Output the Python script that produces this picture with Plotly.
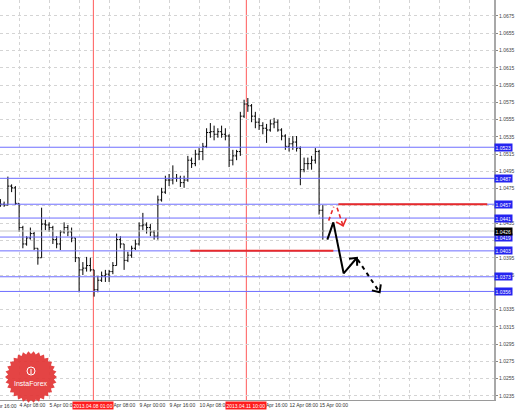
import math
import plotly.graph_objects as go

# ---------------- data (EURUSD-like H2 bars, x = hours since 2013-04-03 22:00, weekend skipped)
START_OPEN = 1.0460
highs = [1.0463, 1.0460, 1.0489, 1.0480, 1.0478, 1.0458, 1.0432, 1.0420, 1.0430, 1.0425,
         1.0406, 1.0453, 1.0439, 1.0436, 1.0432, 1.0420, 1.0427, 1.0436, 1.0433, 1.0430,
         1.0418, 1.0395, 1.0390, 1.0396, 1.0395, 1.0381, 1.0374, 1.0379, 1.0381, 1.0381,
         1.0390, 1.0423, 1.0420, 1.0411, 1.0402, 1.0409, 1.0416, 1.0436, 1.0447, 1.0436,
         1.0434, 1.0427, 1.0467, 1.0476, 1.0490, 1.0492, 1.0502, 1.0492, 1.0490, 1.0490,
         1.0513, 1.0511, 1.0520, 1.0522, 1.0528, 1.0545, 1.0551, 1.0548, 1.0545, 1.0548,
         1.0545, 1.0538, 1.0520, 1.0520, 1.0564, 1.0578, 1.0580, 1.0573, 1.0564, 1.0557,
         1.0552, 1.0550, 1.0555, 1.0557, 1.0555, 1.0545, 1.0538, 1.0534, 1.0536, 1.0536,
         1.0524, 1.0511, 1.0511, 1.0513, 1.0522, 1.0520, 1.0456]
lows = [1.0454, 1.0454, 1.0456, 1.0471, 1.0456, 1.0425, 1.0406, 1.0409, 1.0416, 1.0404,
        1.0387, 1.0395, 1.0427, 1.0425, 1.0411, 1.0406, 1.0404, 1.0423, 1.0420, 1.0413,
        1.0390, 1.0355, 1.0375, 1.0379, 1.0379, 1.0350, 1.0355, 1.0367, 1.0367, 1.0367,
        1.0376, 1.0386, 1.0406, 1.0381, 1.0390, 1.0395, 1.0404, 1.0409, 1.0427, 1.0423,
        1.0420, 1.0416, 1.0416, 1.0460, 1.0469, 1.0478, 1.0480, 1.0483, 1.0477, 1.0476,
        1.0483, 1.0499, 1.0501, 1.0508, 1.0508, 1.0522, 1.0534, 1.0531, 1.0534, 1.0534,
        1.0531, 1.0500, 1.0502, 1.0508, 1.0513, 1.0557, 1.0564, 1.0552, 1.0545, 1.0543,
        1.0538, 1.0528, 1.0541, 1.0545, 1.0541, 1.0531, 1.0520, 1.0518, 1.0520, 1.0518,
        1.0479, 1.0494, 1.0497, 1.0497, 1.0504, 1.0445, 1.0416]
closes = [1.0457, 1.0456, 1.0478, 1.0476, 1.0458, 1.0430, 1.0411, 1.0418, 1.0423, 1.0406,
          1.0395, 1.0434, 1.0433, 1.0430, 1.0416, 1.0411, 1.0425, 1.0430, 1.0425, 1.0418,
          1.0395, 1.0381, 1.0383, 1.0386, 1.0381, 1.0358, 1.0369, 1.0374, 1.0376, 1.0379,
          1.0386, 1.0416, 1.0411, 1.0392, 1.0398, 1.0406, 1.0411, 1.0432, 1.0433, 1.0430,
          1.0425, 1.0420, 1.0462, 1.0471, 1.0485, 1.0485, 1.0487, 1.0487, 1.0482, 1.0485,
          1.0508, 1.0504, 1.0515, 1.0518, 1.0524, 1.0540, 1.0541, 1.0538, 1.0541, 1.0538,
          1.0536, 1.0508, 1.0513, 1.0518, 1.0559, 1.0573, 1.0571, 1.0559, 1.0552, 1.0548,
          1.0545, 1.0543, 1.0550, 1.0552, 1.0543, 1.0536, 1.0524, 1.0527, 1.0529, 1.0522,
          1.0497, 1.0504, 1.0504, 1.0508, 1.0518, 1.0450, 1.0426]
bar_hours = list(range(0, 2 * len(closes), 2))
opens = [START_OPEN] + closes[:-1]

y_tick_vals = [1.0235, 1.0255, 1.0275, 1.0295, 1.0315, 1.0335, 1.0375, 1.0395,
               1.0415, 1.0435, 1.0455, 1.0475, 1.0495, 1.0515, 1.0535, 1.0555, 1.0575,
               1.0595, 1.0615, 1.0635, 1.0655, 1.0675]
y_tick_text = ["1.0235", "1.0255", "1.0275", "1.0295", "1.0315", "1.0335", "1.0375", "1.0395",
               "", "1.0435", "", "1.0475", "1.0495", "1.0515", "1.0535", "1.0555", "1.0575",
               "1.0595", "1.0615", "1.0635", "1.0655", "1.0675"]
x_tick_hours = [10, 26, 42, 58, 74, 90, 106, 122, 138, 154, 170, 186, 202, 218, 234, 250]
x_tick_text = ["4 Apr 08:00", "5 Apr 00:00", "", "8 Apr 08:00",
               "9 Apr 00:00", "9 Apr 16:00", "10 Apr 08:00", "", "11 Apr 16:00",
               "12 Apr 08:00", "15 Apr 00:00", "", "", "", "", ""]
first_label_hour = -6
first_label_text = "3 Apr 16:00"

blue_levels = [1.0523, 1.0487, 1.0457, 1.0441, 1.0419, 1.0403, 1.0373, 1.0356]
bid_price = 1.0426
red_level_prices = [1.0457, 1.0403]
red_level_start = [180.3, 101.3]
red_level_end = [259.7, 177.6]
separator_hours = [49.6, 131.2]
separator_labels = ["2013.04.08 01:00", "2013.04.11 10:00"]

fc_solid_h = [174.4, 177.6, 183.1, 190.2]
fc_solid_p = [1.0416, 1.0436, 1.0377, 1.0395]
fc_dash_h = [190.6, 202.3]
fc_dash_p = [1.0393, 1.0355]
fc_red_up_h = [175.1, 177.8]
fc_red_up_p = [1.0438, 1.0454]
fc_red_down_h = [179.6, 182.8]
fc_red_down_p = [1.0453, 1.0432]

# ---------------- geometry
W, H = 518, 410
ML, MR, MT, MB = 0, 24, 0, 10
PW, PH = W - ML - MR, H - MT - MB
XR = [-0.2, 263.3]
YR = [1.02303, 1.06935]
px_per_h = PW / (XR[1] - XR[0])
px_per_p = PH / (YR[1] - YR[0])

BLUE_LINE = "#6e6eff"
BLUE_BOX = "#2424f0"
RED = "#e82a2a"
FONT = "Liberation Sans"

fig = go.Figure()

# horizontal levels as traces spanning the whole x range (drawn under the bars)
fig.add_trace(go.Scatter(x=[XR[0], XR[1]], y=[bid_price, bid_price], mode="lines",
                         line=dict(color="#c8c8c8", width=1), hoverinfo="skip"))
for lv in blue_levels:
    fig.add_trace(go.Scatter(x=[XR[0], XR[1]], y=[lv, lv], mode="lines",
                             line=dict(color=BLUE_LINE, width=1), hoverinfo="skip"))

fig.add_trace(go.Ohlc(x=bar_hours, open=opens, high=highs, low=lows, close=closes,
                      increasing=dict(line=dict(color="black", width=1)),
                      decreasing=dict(line=dict(color="black", width=1)),
                      tickwidth=0.4, hoverinfo="skip"))


def arrow_head(hs, ps, color, width):
    x1, y1 = hs[-1] * px_per_h, ps[-1] * px_per_p
    x0, y0 = hs[-2] * px_per_h, ps[-2] * px_per_p
    ang = math.atan2(y0 - y1, x0 - x1)
    L = 8
    pts_h, pts_p = [], []
    for a in (ang + math.radians(42), None, ang - math.radians(42)):
        if a is None:
            pts_h.append(hs[-1]); pts_p.append(ps[-1])
        else:
            pts_h.append((x1 + L * math.cos(a)) / px_per_h)
            pts_p.append((y1 + L * math.sin(a)) / px_per_p)
    fig.add_trace(go.Scatter(x=pts_h, y=pts_p, mode="lines",
                             line=dict(color=color, width=width), hoverinfo="skip"))


fig.add_trace(go.Scatter(x=fc_solid_h, y=fc_solid_p, mode="lines",
                         line=dict(color="black", width=2), hoverinfo="skip"))
arrow_head(fc_solid_h, fc_solid_p, "black", 2)
fig.add_trace(go.Scatter(x=fc_dash_h, y=fc_dash_p, mode="lines",
                         line=dict(color="black", width=2, dash="4px,4px"), hoverinfo="skip"))
arrow_head(fc_dash_h, fc_dash_p, "black", 2)
fig.add_trace(go.Scatter(x=fc_red_up_h, y=fc_red_up_p, mode="lines",
                         line=dict(color=RED, width=1.6, dash="4px,3px"), hoverinfo="skip"))
fig.add_trace(go.Scatter(x=fc_red_down_h, y=fc_red_down_p, mode="lines",
                         line=dict(color=RED, width=1.6, dash="4px,3px"), hoverinfo="skip"))
arrow_head(fc_red_down_h, fc_red_down_p, RED, 1.6)
for p, a, b in zip(red_level_prices, red_level_start, red_level_end):
    fig.add_trace(go.Scatter(x=[a, b], y=[p, p], mode="lines",
                             line=dict(color=RED, width=2), hoverinfo="skip"))

shapes = []
for sh in separator_hours:
    shapes.append(dict(type="line", xref="x", x0=sh, x1=sh, yref="paper", y0=0, y1=1,
                       line=dict(color="#ff5a5a", width=1), layer="between"))

# logo badge (decoration, pixel based)
cx, cy, R1, R2, N = 31, 377, 26, 23, 30
path = []
for i in range(2 * N):
    r = R1 if i % 2 == 0 else R2
    a = math.pi * i / N
    px = cx + r * math.cos(a)
    py = cy + r * math.sin(a)
    path.append(("M" if i == 0 else "L") + f"{px / PW:.5f},{1 - py / PH:.5f}")
shapes.append(dict(type="path", xref="paper", yref="paper", path=" ".join(path) + " Z",
                   fillcolor="rgba(226,52,52,0.92)", line=dict(width=0), layer="above"))
shapes.append(dict(type="circle", xref="paper", yref="paper",
                   x0=(cx - 4) / PW, x1=(cx + 4) / PW, y0=1 - (cy - 2) / PH, y1=1 - (cy - 10) / PH,
                   line=dict(color="white", width=1), layer="above"))
shapes.append(dict(type="line", xref="paper", yref="paper",
                   x0=cx / PW, x1=cx / PW, y0=1 - (cy - 3) / PH, y1=1 - (cy - 8) / PH,
                   line=dict(color="white", width=1), layer="above"))

annotations = []
for lv in blue_levels:
    annotations.append(dict(x=1, xref="paper", xanchor="left", y=lv, yref="y", text=f"{lv:.4f}",
                            showarrow=False, bgcolor=BLUE_BOX, borderpad=0.5,
                            font=dict(size=5, color="white", family=FONT)))
annotations.append(dict(x=1, xref="paper", xanchor="left", y=bid_price, yref="y",
                        text=f"{bid_price:.4f}", showarrow=False, bgcolor="black", borderpad=0.5,
                        font=dict(size=5, color="white", family=FONT)))
for sh, lab in zip(separator_hours, separator_labels):
    annotations.append(dict(x=sh, xref="x", xanchor="center", y=0, yref="paper", yanchor="top",
                            yshift=-1, text=lab, showarrow=False, bgcolor="#ff1c1c",
                            borderpad=0.5, font=dict(size=5, color="white", family=FONT)))
annotations.append(dict(x=(first_label_hour - XR[0]) * px_per_h / PW, xref="paper", xanchor="left",
                        y=0, yref="paper", yanchor="top", yshift=-1, text=first_label_text,
                        showarrow=False, font=dict(size=5, color="#333333", family=FONT)))
annotations.append(dict(x=cx / PW, xref="paper", xanchor="center", y=1 - 383 / PH, yref="paper",
                        yanchor="middle", text="InstaForex", showarrow=False,
                        font=dict(size=7, color="white", family=FONT)))

fig.update_layout(
    width=W, height=H, margin=dict(l=ML, r=MR, t=MT, b=MB),
    paper_bgcolor="white", plot_bgcolor="white", showlegend=False,
    shapes=shapes, annotations=annotations,
    xaxis=dict(range=XR, rangeslider=dict(visible=False), tickvals=x_tick_hours,
               ticktext=x_tick_text, ticklabelposition="outside right", tickangle=0,
               ticklabeloverflow="allow",
               tickfont=dict(size=5, color="#333333", family=FONT),
               showgrid=True, gridcolor="#d4d4d4", griddash="dot", gridwidth=1,
               showline=True, linecolor="#9a9a9a", linewidth=1, ticks="", zeroline=False,
               fixedrange=True),
    yaxis=dict(range=YR, side="right", tickvals=y_tick_vals, ticktext=y_tick_text,
               ticklabeloverflow="allow",
               tickfont=dict(size=5, color="#444444", family=FONT),
               showgrid=True, gridcolor="#d4d4d4", griddash="dot", gridwidth=1,
               showline=True, linecolor="#a8a8a8", linewidth=2, ticks="outside", ticklen=2,
               tickcolor="#888888", zeroline=False, fixedrange=True),
)

fig.write_html("out.html", config={"displayModeBar": False}, post_script=(
    "document.body.style.margin='0';document.body.style.padding='0';"
    "document.body.style.overflow='hidden';"
    "document.documentElement.style.overflow='hidden';"))
